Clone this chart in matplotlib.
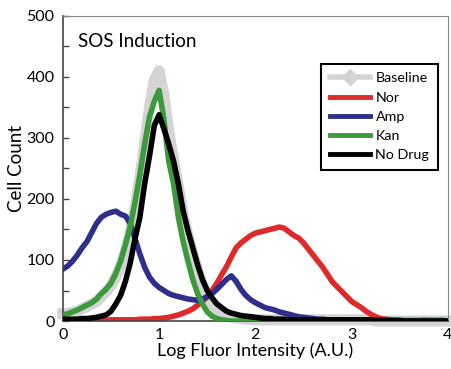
import numpy as np
import matplotlib
matplotlib.use("Agg")
import matplotlib.pyplot as plt
from matplotlib.lines import Line2D

# bin centres (log fluorescence)
log_fluor = np.round(np.linspace(0, 4, 81), 2)

baseline = [12, 12, 14, 16, 20, 24, 28, 32, 40, 48, 58, 72, 90, 115, 145, 185, 235, 290, 350, 395,
            410, 370, 310, 265, 220, 175, 140, 110, 82, 60, 42, 28, 18, 12, 8, 6, 5, 4, 3, 3,
            2, 2, 2, 2, 2, 2, 2, 2, 2, 2, 2, 2, 2, 2, 2, 2, 2, 2, 2, 2,
            2, 2, 2, 2, 2, 0, 0, 0, 0, 0, 0, 0, 0, 0, 0, 0, 0, 0, 0, 0, 0]
nor = [1, 1, 1, 1, 1, 1, 1, 1, 1, 1, 2, 2, 2, 2, 2, 2, 3, 3, 3, 4,
       4, 5, 6, 8, 10, 13, 16, 20, 26, 32, 40, 50, 62, 76, 89, 105, 120, 128, 134, 140,
       144, 146, 148, 150, 152, 154, 152, 146, 140, 136, 128, 118, 108, 98, 88, 76, 64, 56, 48, 40,
       32, 27, 22, 16, 11, 7, 4, 3, 2, 1, 1, 1, 1, 1, 1, 1, 0, 0, 0, 0, 0]
amp = [85, 90, 98, 108, 120, 130, 145, 160, 170, 175, 178, 180, 175, 172, 160, 135, 110, 88, 72, 62,
       55, 50, 45, 42, 40, 38, 36, 35, 34, 36, 40, 45, 52, 60, 68, 74, 65, 52, 42, 35,
       30, 26, 22, 20, 18, 15, 13, 11, 9, 7, 6, 5, 4, 3, 3, 2, 2, 1, 1, 1,
       1, 0, 0, 0, 0, 0, 0, 0, 0, 0, 0, 0, 0, 0, 0, 1, 1, 1, 1, 1, 0]
kan = [10, 12, 15, 18, 22, 26, 30, 36, 45, 52, 62, 78, 98, 125, 155, 195, 240, 290, 335, 360,
       378, 330, 262, 225, 170, 130, 98, 68, 45, 28, 15, 8, 4, 2, 1, 0, 0, 0, 0, 0,
       0, 0, 0, 0, 0, 0, 0, 0, 0, 0, 0, 0, 0, 0, 0, 0, 0, 0, 0, 0,
       0, 0, 0, 0, 0, 0, 0, 0, 0, 0, 0, 0, 0, 0, 0, 0, 0, 0, 0, 0, 0]
no_drug = [3, 3, 3, 3, 4, 4, 5, 6, 8, 10, 16, 28, 42, 65, 95, 135, 170, 225, 270, 320,
           338, 315, 290, 262, 225, 180, 148, 120, 92, 68, 50, 38, 28, 22, 16, 13, 11, 9, 8, 7,
           6, 5, 4, 4, 3, 3, 3, 2, 2, 2, 2, 2, 2, 2, 2, 2, 2, 2, 2, 2,
           2, 2, 2, 2, 2, 1, 1, 1, 1, 1, 1, 0, 0, 0, 0, 0, 0, 0, 0, 0, 0]

series_names = ["Baseline", "Nor", "Amp", "Kan", "No Drug"]
colors = {"Baseline": "#d4d4d4", "Nor": "#dd2a2a", "Amp": "#2e2f8a",
          "Kan": "#3c9a3c", "No Drug": "#000000"}

plt.rcParams['font.family'] = ['Lato', 'DejaVu Sans']

fig = plt.figure(figsize=(4.52, 3.69), dpi=100)
ax = fig.add_axes([0.139, 0.130, 0.852, 0.827])

ax.plot(log_fluor, baseline, color=colors["Baseline"], lw=8, solid_joinstyle='round',
        clip_on=False, zorder=1)
ax.plot(log_fluor, nor, color=colors["Nor"], lw=4, zorder=2)
ax.plot(log_fluor, amp, color=colors["Amp"], lw=4, zorder=3)
ax.plot(log_fluor, kan, color=colors["Kan"], lw=4, zorder=4)
ax.plot(log_fluor, no_drug, color=colors["No Drug"], lw=4, zorder=5)

ax.set_xlim(0, 4)
ax.set_ylim(0, 500)
ax.set_xticks([0, 1, 2, 3, 4])
ax.set_yticks([0, 100, 200, 300, 400, 500])
ax.set_yticks(np.arange(50, 500, 100), minor=True)
ax.tick_params(axis='y', direction='in', length=4, width=1, labelsize=11.5, pad=6, color='#444444')
ax.tick_params(axis='y', which='minor', direction='in', length=4, width=1, color='#444444')
ax.tick_params(axis='x', length=0, labelsize=11.5, pad=5)
for s in ['left', 'bottom']:
    ax.spines[s].set_color('#444444')
    ax.spines[s].set_linewidth(1.2)
for s in ['top', 'right']:
    ax.spines[s].set_color('#888888')
    ax.spines[s].set_linewidth(0.8)

ax.set_xlabel("Log Fluor Intensity (A.U.)", fontsize=13, labelpad=0)
ax.set_ylabel("Cell Count", fontsize=13.5, labelpad=1)
ax.text(0.04, 0.915, "SOS Induction", transform=ax.transAxes, fontsize=13.5, va='center', ha='left')

handles = [Line2D([], [], color=colors["Baseline"], lw=4, marker='D', markersize=8,
                  markevery=[1], markeredgecolor=colors["Baseline"])]
for name in series_names[1:]:
    handles.append(Line2D([], [], color=colors[name], lw=3.5))
leg = ax.legend(handles, series_names, loc='upper right', bbox_to_anchor=(0.974, 0.843),
                borderaxespad=0, fontsize=10.3, handlelength=2.8, labelspacing=0.5,
                handletextpad=0.4, fancybox=False, framealpha=1, borderpad=0.6)
leg.get_frame().set_edgecolor('black')
leg.get_frame().set_linewidth(1.5)

fig.savefig("out.png", dpi=100)
